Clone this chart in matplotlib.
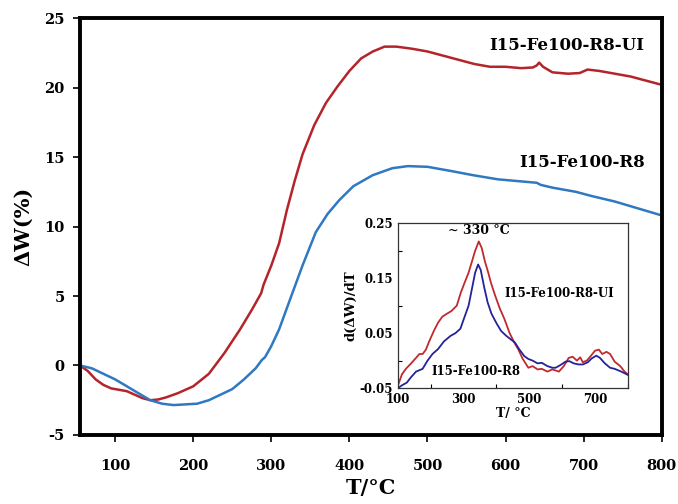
import matplotlib
matplotlib.use('Agg')
import matplotlib.pyplot as plt
from matplotlib.ticker import MultipleLocator

plt.rcParams['font.family'] = ['DejaVu Serif']
plt.rcParams['font.weight'] = 'bold'
plt.rcParams['axes.unicode_minus'] = False

# main TGA curves (T in °C, dW in %)
t_ui = [55, 65, 75, 85, 95, 105, 115, 125, 135, 145, 155, 165, 180, 200, 220, 240,
        260, 275, 287, 290, 300, 310, 320, 330, 340, 355, 370, 385, 400, 415, 430,
        445, 460, 480, 500, 520, 540, 560, 580, 600, 620, 635, 640, 643, 648, 660,
        680, 695, 705, 720, 740, 760, 780, 800]
w_ui = [0.0, -0.4, -1.0, -1.4, -1.65, -1.75, -1.85, -2.1, -2.35, -2.5, -2.45, -2.3,
        -2.0, -1.5, -0.6, 0.9, 2.6, 4.0, 5.2, 5.8, 7.2, 8.8, 11.2, 13.3, 15.2, 17.3,
        18.9, 20.1, 21.2, 22.1, 22.6, 22.95, 22.95, 22.8, 22.6, 22.3, 22.0, 21.7,
        21.5, 21.5, 21.4, 21.45, 21.6, 21.8, 21.5, 21.1, 21.0, 21.05, 21.3, 21.2,
        21.0, 20.8, 20.5, 20.2]

t_r8 = [55, 70, 85, 100, 115, 130, 145, 160, 175, 190, 205, 220, 235, 250, 265, 280,
        288, 292, 300, 310, 323, 340, 357, 372, 387, 405, 430, 455, 475, 500, 530,
        558, 590, 630, 640, 645, 660, 690, 710, 740, 770, 800]
w_r8 = [0.0, -0.2, -0.6, -1.0, -1.5, -2.0, -2.5, -2.75, -2.85, -2.8, -2.75, -2.5,
        -2.1, -1.7, -1.0, -0.2, 0.4, 0.6, 1.4, 2.6, 4.6, 7.2, 9.6, 10.9, 11.9, 12.9,
        13.7, 14.2, 14.35, 14.3, 14.0, 13.7, 13.4, 13.2, 13.15, 13.0, 12.8, 12.5,
        12.2, 11.8, 11.3, 10.8]

# inset DTG curves
ti_ui = [100, 112, 124, 140, 155, 165, 175, 185, 195, 210, 222, 235, 248, 262, 279,
         292, 305, 315, 325, 335, 346, 355, 365, 375, 383, 395, 410, 424, 440, 455,
         466, 480, 497, 510, 525, 538, 555, 570, 590, 605, 620, 632, 645, 655, 663,
         675, 688, 700, 712, 722, 735, 746, 760, 777, 790, 800]
d_ui = [-0.045, -0.025, -0.015, -0.005, 0.005, 0.012, 0.012, 0.02, 0.035, 0.055,
        0.069, 0.08, 0.085, 0.09, 0.10, 0.125, 0.145, 0.16, 0.18, 0.2, 0.217, 0.205,
        0.18, 0.16, 0.142, 0.12, 0.095, 0.076, 0.05, 0.032, 0.021, 0.003, -0.013,
        -0.01, -0.016, -0.015, -0.02, -0.016, -0.02, -0.01, 0.005, 0.007, 0.0, 0.006,
        -0.003, 0.0, 0.009, 0.018, 0.02, 0.012, 0.016, 0.012, -0.002, -0.01, -0.02,
        -0.025]

ti_r8 = [100, 112, 127, 140, 155, 175, 190, 205, 222, 240, 260, 275, 290, 303, 315,
         325, 335, 344, 352, 362, 373, 385, 400, 414, 430, 445, 456, 470, 485, 497,
         510, 525, 538, 555, 570, 580, 595, 610, 622, 635, 650, 663, 678, 690, 704,
         715, 730, 746, 760, 780, 800]
d_r8 = [-0.05, -0.045, -0.04, -0.03, -0.02, -0.015, 0.0, 0.012, 0.021, 0.035, 0.045,
        0.05, 0.058, 0.08, 0.10, 0.13, 0.16, 0.175, 0.165, 0.135, 0.106, 0.085, 0.068,
        0.054, 0.045, 0.038, 0.033, 0.02, 0.008, 0.003, 0.0, -0.005, -0.004, -0.01,
        -0.013, -0.013, -0.008, -0.002, -0.001, -0.005, -0.007, -0.007, -0.003, 0.004,
        0.009, 0.005, -0.005, -0.013, -0.015, -0.02, -0.026]

red = '#b3242b'
blue = '#2f78c2'
red_in = '#c02a2e'
blue_in = '#23239a'

fig = plt.figure(figsize=(6.78, 5.04), dpi=100)
ax = fig.add_axes([0.118, 0.137, 0.858, 0.827])

ax.plot(t_ui, w_ui, color=red, lw=1.8)
ax.plot(t_r8, w_r8, color=blue, lw=1.8)

ax.set_xlim(55, 800)
ax.set_ylim(-5, 25)
ax.set_xticks([100, 200, 300, 400, 500, 600, 700, 800])
ax.set_yticks([-5, 0, 5, 10, 15, 20, 25])
for s in ax.spines.values():
    s.set_linewidth(2.8)
ax.tick_params(direction='out', length=5, width=1.2, labelsize=10.5, pad=6)
ax.tick_params(axis='x', pad=12)
ax.set_xlabel('T/°C', fontsize=15, fontweight='bold', labelpad=4)
ax.set_ylabel('ΔW(%)', fontsize=15, fontweight='bold', labelpad=8)

ax.text(778, 23.0, 'I15-Fe100-R8-UI', ha='right', va='center', fontsize=12, fontweight='bold')
ax.text(778, 14.6, 'I15-Fe100-R8', ha='right', va='center', fontsize=12, fontweight='bold')

# inset
axi = fig.add_axes([0.587, 0.230, 0.339, 0.327])
axi.plot(ti_ui, d_ui, color=red_in, lw=1.3)
axi.plot(ti_r8, d_r8, color=blue_in, lw=1.3)
axi.set_xlim(100, 800)
axi.set_ylim(-0.05, 0.25)
axi.set_xticks([100, 300, 500, 700])
axi.xaxis.set_minor_locator(MultipleLocator(100))
axi.set_yticks([-0.05, 0.05, 0.15, 0.25])
axi.set_yticklabels(['-0.05', '0.05', '0.15', '0.25'])
axi.yaxis.set_minor_locator(MultipleLocator(0.05))
for s in axi.spines.values():
    s.set_linewidth(0.9)
    s.set_color('#333333')
axi.tick_params(which='both', direction='in', labelsize=8.5, width=0.8)
axi.tick_params(which='major', length=0)
axi.tick_params(which='minor', length=3)
axi.set_xlabel('T/ °C', fontsize=9, fontweight='bold', labelpad=1)
axi.set_ylabel('d(ΔW)/dT', fontsize=9.5, fontweight='bold', labelpad=2)
axi.text(346, 0.237, '~ 330 °C', ha='center', va='center', fontsize=9, fontweight='bold')
axi.text(590, 0.122, 'I15-Fe100-R8-UI', ha='center', va='center', fontsize=8.5, fontweight='bold')
axi.text(336, -0.019, 'I15-Fe100-R8', ha='center', va='center', fontsize=8.5, fontweight='bold')

fig.savefig('out.png', dpi=100)
